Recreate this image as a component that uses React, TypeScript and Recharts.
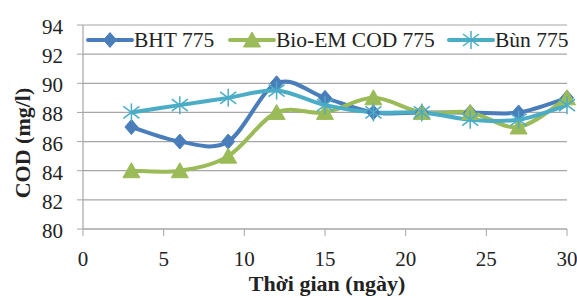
import React from 'react';
import { LineChart, Line, XAxis, YAxis, CartesianGrid, Label } from 'recharts';

const days = [3, 6, 9, 12, 15, 18, 21, 24, 27, 30];
const bht = [87, 86, 86, 90, 89, 88, 88, 88, 88, 89];
const bioem = [84, 84, 85, 88, 88, 89, 88, 88, 87, 89];
const bun = [88, 88.5, 89, 89.5, 88.5, 88, 88, 87.5, 87.5, 88.5];
const xTicks = [0, 5, 10, 15, 20, 25, 30];
const yTicks = [80, 82, 84, 86, 88, 90, 92, 94];
const names = ['BHT 775', 'Bio-EM COD 775', 'Bùn 775'];
const colors = ['#4a7ebb', '#9bbb59', '#4bacc6'];

const data = days.map((d, i) => ({ day: d, bht: bht[i], bioem: bioem[i], bun: bun[i] }));

const FONT = "'Liberation Serif', monospace";

function excelCurve(context: any) {
  let pts: number[][] = [];
  return {
    areaStart() {},
    areaEnd() {},
    lineStart() { pts = []; },
    point(x: number, y: number) { pts.push([+x, +y]); },
    lineEnd() {
      const n = pts.length;
      if (!n) return;
      context.moveTo(pts[0][0], pts[0][1]);
      const t = 1 / 6;
      for (let i = 0; i < n - 1; i++) {
        const p0 = pts[i - 1] || pts[i];
        const p1 = pts[i];
        const p2 = pts[i + 1];
        const p3 = pts[i + 2] || p2;
        context.bezierCurveTo(
          p1[0] + (p2[0] - p0[0]) * t, p1[1] + (p2[1] - p0[1]) * t,
          p2[0] - (p3[0] - p1[0]) * t, p2[1] - (p3[1] - p1[1]) * t,
          p2[0], p2[1]
        );
      }
    },
  };
}

const Diamond = ({ cx, cy, color }: any) => (
  <path d={`M${cx},${cy - 7.5}L${cx + 6.5},${cy}L${cx},${cy + 7.5}L${cx - 6.5},${cy}Z`} fill={color} stroke={color} strokeWidth={1} />
);
const Triangle = ({ cx, cy, color }: any) => (
  <path d={`M${cx},${cy - 8}L${cx + 8.5},${cy + 7}L${cx - 8.5},${cy + 7}Z`} fill={color} stroke={color} strokeWidth={1} />
);
const Star = ({ cx, cy, color }: any) => (
  <g stroke={color} strokeWidth={1.5}>
    <line x1={cx} y1={cy - 9} x2={cx} y2={cy + 9} />
    <line x1={cx - 8} y1={cy - 6} x2={cx + 8} y2={cy + 6} />
    <line x1={cx - 8} y1={cy + 6} x2={cx + 8} y2={cy - 6} />
  </g>
);

const markers = [Diamond, Triangle, Star];
const legendLefts = [86, 228, 447];

const XTick = ({ x, y, payload }: any) => (
  <text x={x} y={y} dy={28} textAnchor="middle" fontFamily={FONT} fontSize={21} fill="#222">{payload.value}</text>
);
const YTick = ({ x, y, payload }: any) => (
  <text x={x} y={y} dy={9} textAnchor="end" fontFamily={FONT} fontSize={21} fill="#222">{payload.value}</text>
);

const YTitle = ({ viewBox }: any) => {
  const cx = 23;
  const cy = viewBox.y + viewBox.height / 2 + 16;
  return (
    <text x={cx} y={cy} dy={7} transform={`rotate(-90 ${cx} ${cy})`} textAnchor="middle" fontFamily={FONT} fontSize={22} fontWeight="bold" fill="#222">COD (mg/l)</text>
  );
};
const XTitle = ({ viewBox }: any) => {
  const cx = viewBox.x + viewBox.width / 2 + 2;
  return (
    <text x={cx} y={291} textAnchor="middle" fontFamily={FONT} fontSize={22} fontWeight="bold" fill="#222">Thời gian (ngày)</text>
  );
};

export default function App() {
  const keys = ['bht', 'bioem', 'bun'];
  return (
    <div style={{ position: 'absolute', left: 0, top: 0, width: 577, height: 298, background: '#fff', fontFamily: FONT }}>
      <LineChart width={577} height={298} data={data} margin={{ top: 25, right: 10, bottom: 0, left: 0 }}>
        <CartesianGrid vertical={false} stroke="#a6a6a6" strokeWidth={1.2} />
        <XAxis
          dataKey="day"
          type="number"
          domain={[0, 30]}
          ticks={xTicks}
          height={69}
          tick={<XTick />}
          tickLine={{ stroke: '#a6a6a6' }}
          axisLine={{ stroke: '#a6a6a6', strokeWidth: 1.2 }}
          tickSize={7}
          tickMargin={2}
        >
          <Label content={<XTitle />} />
        </XAxis>
        <YAxis
          type="number"
          domain={[80, 94]}
          ticks={yTicks}
          width={83}
          tick={<YTick />}
          tickLine={{ stroke: '#a6a6a6' }}
          axisLine={{ stroke: '#a6a6a6', strokeWidth: 1.2 }}
          tickSize={6}
          tickMargin={14}
          interval={0}
        >
          <Label content={<YTitle />} />
        </YAxis>
        {keys.map((k, i) => {
          const M = markers[i];
          return (
            <Line
              key={k}
              dataKey={k}
              name={names[i]}
              type={excelCurve as any}
              stroke={colors[i]}
              strokeWidth={4}
              isAnimationActive={false}
              dot={(p: any) => <M key={`${k}-${p.index}`} cx={p.cx} cy={p.cy} color={colors[i]} />}
              activeDot={false}
            />
          );
        })}
      </LineChart>
      {names.map((n, i) => {
        const M = markers[i];
        return (
          <div key={n} style={{ position: 'absolute', left: legendLefts[i], top: 29, display: 'flex', alignItems: 'center', fontFamily: FONT, fontSize: 21.5, color: '#222', whiteSpace: 'nowrap', lineHeight: '22px' }}>
            <svg width={48} height={22}>
              <line x1={2} y1={11} x2={46} y2={11} stroke={colors[i]} strokeWidth={4} strokeLinecap="round" />
              <M cx={24} cy={11} color={colors[i]} />
            </svg>
            <span>{n}</span>
          </div>
        );
      })}
    </div>
  );
}
